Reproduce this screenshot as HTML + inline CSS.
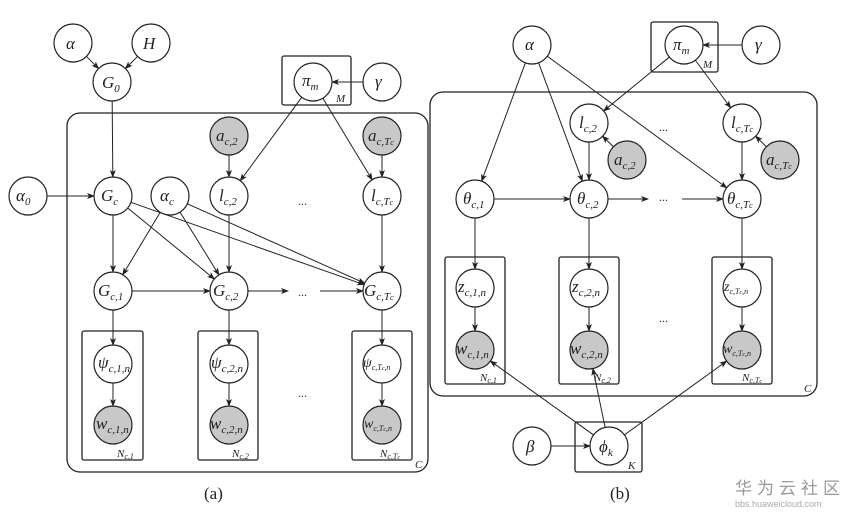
<!DOCTYPE html>
<html><head><meta charset="utf-8"><style>
body{margin:0;background:#fff;width:857px;height:518px;overflow:hidden}
svg{display:block}
text{font-family:"Liberation Serif",serif;font-style:italic;font-size:17px;fill:#222}
.s{font-size:11px}
.ss{font-size:8px}
</style></head><body>
<svg id="g" width="857" height="518" viewBox="0 0 857 518">
<defs><marker id="a" markerWidth="8" markerHeight="6" refX="7" refY="3" orient="auto" markerUnits="userSpaceOnUse"><path d="M0,0 L8,3 L0,6 L2,3z" fill="#222"/></marker></defs>
<g fill="none" stroke="#222" stroke-width="1.3">
<rect x="67" y="113" width="361" height="359" rx="13"/>
<rect x="282" y="56" width="69" height="49" rx="2"/>
<rect x="82" y="331" width="61" height="129" rx="2"/>
<rect x="198" y="331" width="60" height="129" rx="2"/>
<rect x="352" y="331" width="60" height="129" rx="2"/>
<rect x="430" y="92" width="387" height="304" rx="13"/>
<rect x="651" y="22" width="67" height="50" rx="2"/>
<rect x="445" y="257" width="60" height="127" rx="2"/>
<rect x="559" y="257" width="60" height="127" rx="2"/>
<rect x="712" y="257" width="60" height="127" rx="2"/>
<rect x="575" y="422" width="67" height="50" rx="2"/>
</g>
<g id="edges" stroke="#222" stroke-width="1" fill="none"></g>
<g id="nodes" stroke="#222" stroke-width="1.2"></g>
<g>
<text x="66" y="49">α</text><text x="143" y="49">H</text>
<text x="102" y="88">G<tspan class="s" dy="4">0</tspan></text>
<text x="302" y="86">π<tspan class="s" dy="4">m</tspan></text><text x="375" y="87">γ</text>
<text class="s" x="336" y="102">M</text>
<text x="16" y="201">α<tspan class="s" dy="4">0</tspan></text>
<text x="101" y="201">G<tspan class="s" dy="4">c</tspan></text>
<text x="160" y="201">α<tspan class="s" dy="4">c</tspan></text>
<text x="216" y="141">a<tspan class="s" dy="4">c,2</tspan></text>
<text x="368" y="141">a<tspan class="s" dy="4">c,T<tspan class="ss">c</tspan></tspan></text>
<text x="219" y="201">l<tspan class="s" dy="4">c,2</tspan></text>
<text x="371" y="201">l<tspan class="s" dy="4">c,T<tspan class="ss">c</tspan></tspan></text>
<text x="298" y="205" style="font-style:normal;font-size:12px">...</text>
<text x="98" y="296">G<tspan class="s" dy="4">c,1</tspan></text>
<text x="213" y="296">G<tspan class="s" dy="4">c,2</tspan></text>
<text x="364" y="296">G<tspan class="s" dy="4">c,T<tspan class="ss">c</tspan></tspan></text>
<text x="98" y="368">ψ<tspan class="s" dy="4">c,1,n</tspan></text>
<text x="211" y="368">ψ<tspan class="s" dy="4">c,2,n</tspan></text>
<text x="363" y="367" style="font-size:14px">ψ<tspan class="ss" dy="3">c,T<tspan style="font-size:6px">c</tspan>,n</tspan></text>
<text x="96" y="429">w<tspan class="s" dy="4">c,1,n</tspan></text>
<text x="210" y="429">w<tspan class="s" dy="4">c,2,n</tspan></text>
<text x="364" y="428" style="font-size:14px">w<tspan class="ss" dy="3">c,T<tspan style="font-size:6px">c</tspan>,n</tspan></text>
<text x="298" y="397" style="font-style:normal;font-size:12px">...</text>
<text x="298" y="296" style="font-style:normal;font-size:12px">...</text>
<text class="s" x="117" y="457">N<tspan class="ss" dy="2">c,1</tspan></text>
<text class="s" x="232" y="457">N<tspan class="ss" dy="2">c,2</tspan></text>
<text class="s" x="380" y="457">N<tspan class="ss" dy="2">c,T<tspan style="font-size:6px">c</tspan></tspan></text>
<text class="s" x="415" y="468">C</text>
<text x="204" y="499" style="font-style:normal">(a)</text>

<text x="525" y="50">α</text>
<text x="673" y="50">π<tspan class="s" dy="4">m</tspan></text><text x="755" y="50">γ</text>
<text class="s" x="703" y="68">M</text>
<text x="579" y="128">l<tspan class="s" dy="4">c,2</tspan></text>
<text x="731" y="128">l<tspan class="s" dy="4">c,T<tspan class="ss">c</tspan></tspan></text>
<text x="659" y="131" style="font-style:normal;font-size:12px">...</text>
<text x="614" y="165">a<tspan class="s" dy="4">c,2</tspan></text>
<text x="766" y="165">a<tspan class="s" dy="4">c,T<tspan class="ss">c</tspan></tspan></text>
<text x="463" y="204">θ<tspan class="s" dy="4">c,1</tspan></text>
<text x="577" y="204">θ<tspan class="s" dy="4">c,2</tspan></text>
<text x="727" y="204">θ<tspan class="s" dy="4">c,T<tspan class="ss">c</tspan></tspan></text>
<text x="659" y="201" style="font-style:normal;font-size:12px">...</text>
<text x="458" y="292">z<tspan class="s" dy="4">c,1,n</tspan></text>
<text x="572" y="292">z<tspan class="s" dy="4">c,2,n</tspan></text>
<text x="724" y="291" style="font-size:14px">z<tspan class="ss" dy="3">c,T<tspan style="font-size:6px">c</tspan>,n</tspan></text>
<text x="456" y="354">w<tspan class="s" dy="4">c,1,n</tspan></text>
<text x="570" y="354">w<tspan class="s" dy="4">c,2,n</tspan></text>
<text x="723" y="353" style="font-size:14px">w<tspan class="ss" dy="3">c,T<tspan style="font-size:6px">c</tspan>,n</tspan></text>
<text x="659" y="322" style="font-style:normal;font-size:12px">...</text>
<text class="s" x="480" y="381">N<tspan class="ss" dy="2">c,1</tspan></text>
<text class="s" x="594" y="381">N<tspan class="ss" dy="2">c,2</tspan></text>
<text class="s" x="742" y="381">N<tspan class="ss" dy="2">c,T<tspan style="font-size:6px">c</tspan></tspan></text>
<text class="s" x="804" y="392">C</text>
<text x="526" y="452">β</text>
<text x="599" y="452">ϕ<tspan class="s" dy="4">k</tspan></text>
<text class="s" x="628" y="469">K</text>
<text x="610" y="499" style="font-style:normal">(b)</text>
<text x="735" y="494" style="font-family:'Liberation Sans','Noto Sans CJK SC',sans-serif;font-style:normal;font-size:17px;fill:#999;letter-spacing:5px">华为云社区</text>
<text x="735" y="507" style="font-family:'Liberation Sans',sans-serif;font-style:normal;font-size:9px;fill:#aaa">bbs.huaweicloud.com</text>
</g>
</svg>
<script>
var N={al:[73,43,0],H:[151,43,0],G0:[112,82,0],pi:[313,82,0],ga:[382,82,0],a0:[28,196,0],Gc:[113,196,0],ac:[170,196,0],l2:[229,196,0],lT:[382,196,0],A2:[229,136,1],AT:[382,136,1],G1:[113,291,0],G2:[229,291,0],GT:[382,291,0],p1:[113,364,0],p2:[229,364,0],pT:[382,364,0],w1:[113,425,1],w2:[229,425,1],wT:[382,425,1],
bal:[532,45,0],bpi:[684,45,0],bga:[761,45,0],bl2:[589,123,0],blT:[742,123,0],bA2:[627,160,1],bAT:[780,160,1],t1:[475,199,0],t2:[589,199,0],tT:[742,199,0],z1:[475,288,0],z2:[589,288,0],zT:[742,288,0],bw1:[475,350,1],bw2:[589,350,1],bwT:[742,350,1],be:[532,446,0],ph:[609,446,0]};
var R=19,E=[['al','G0'],['H','G0'],['G0','Gc'],['ga','pi'],['pi','l2'],['pi','lT'],['a0','Gc'],['A2','l2'],['AT','lT'],['Gc','G1'],['Gc','G2'],['Gc','GT'],['ac','G1'],['ac','G2'],['ac','GT'],['l2','G2'],['lT','GT'],['G1','G2'],['p1','w1'],['p2','w2'],['pT','wT'],['G1','p1'],['G2','p2'],['GT','pT'],
['bal','t1'],['bal','t2'],['bal','tT'],['bga','bpi'],['bpi','bl2'],['bpi','blT'],['bA2','bl2'],['bAT','blT'],['bl2','t2'],['blT','tT'],['t1','t2'],['t1','z1'],['t2','z2'],['tT','zT'],['z1','bw1'],['z2','bw2'],['zT','bwT'],['ph','bw1'],['ph','bw2'],['ph','bwT'],['be','ph']];
var ns='http://www.w3.org/2000/svg',eg=document.getElementById('edges'),ng=document.getElementById('nodes');
function L(x1,y1,x2,y2,arr){var l=document.createElementNS(ns,'line');l.setAttribute('x1',x1);l.setAttribute('y1',y1);l.setAttribute('x2',x2);l.setAttribute('y2',y2);if(arr)l.setAttribute('marker-end','url(#a)');eg.appendChild(l);}
E.forEach(function(e){var a=N[e[0]],b=N[e[1]],dx=b[0]-a[0],dy=b[1]-a[1],d=Math.hypot(dx,dy),ux=dx/d,uy=dy/d;L(a[0]+ux*R,a[1]+uy*R,b[0]-ux*R,b[1]-uy*R,1);});
L(248,291,288,291,1);L(320,291,363,291,1);L(608,199,648,199,1);L(682,199,723,199,1);
for(var k in N){var c=document.createElementNS(ns,'circle');c.setAttribute('cx',N[k][0]);c.setAttribute('cy',N[k][1]);c.setAttribute('r',R);c.setAttribute('fill',N[k][2]?'#c8c8c8':'#fff');ng.appendChild(c);}
</script>
</body></html>
